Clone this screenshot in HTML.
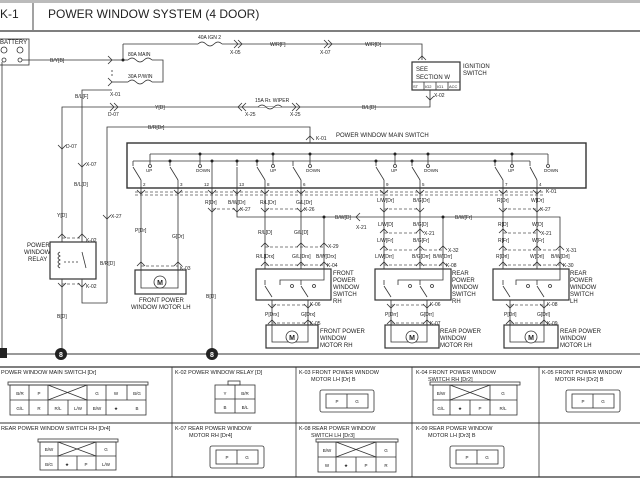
<!DOCTYPE html>
<html><head><meta charset="utf-8"><style>
html,body{margin:0;padding:0;background:#fff;}
svg{display:block;font-family:"Liberation Sans",sans-serif;}
text{fill:#222;}
</style></head><body>
<svg width="640" height="480" viewBox="0 0 640 480" xmlns="http://www.w3.org/2000/svg">
<rect x="0" y="0" width="640" height="3" fill="#bbb"/>
<text x="0" y="18" font-size="12">K-1</text>
<line x1="33" y1="3" x2="33" y2="30" stroke="#444"/>
<text x="48" y="18" font-size="12">POWER WINDOW SYSTEM (4 DOOR)</text>
<line x1="0" y1="31" x2="640" y2="31" stroke="#333" stroke-width="1.2"/>

<g stroke="#333" stroke-width="0.8" fill="none">
<!-- battery -->
<rect x="-2" y="39" width="31" height="26"/>
<circle cx="4" cy="50" r="3"/><circle cx="20" cy="50" r="3"/>
<circle cx="4" cy="60" r="2"/><circle cx="20" cy="60" r="2"/>
<line x1="2" y1="62" x2="2" y2="354"/>
<line x1="22" y1="60" x2="114" y2="60"/>
<!-- fuses -->
<line x1="114" y1="60" x2="128" y2="60"/>
<path d="M128 60 q4 -4 8 0 q4 4 8 0 q4 -4 8 0"/>
<polyline points="152,60 163,60 163,82 152,82"/>
<path d="M128 82 q4 -4 8 0 q4 4 8 0 q4 -4 8 0"/>
<line x1="112" y1="82" x2="128" y2="82"/>
<line x1="123" y1="60" x2="123" y2="44"/>
<line x1="123" y1="44" x2="198" y2="44"/>
<path d="M198 44 q4 -4 8 0 q4 4 8 0 q4 -4 8 0"/>
<polyline points="222,44 422,44 422,60"/>
<line x1="112" y1="70" x2="112" y2="78" stroke-dasharray="2,2"/>
<polyline points="112,90 82,90 82,242"/>
<!-- ignition -->
<rect x="412" y="62" width="48" height="28" stroke-width="1.2"/>
<line x1="412" y1="82" x2="460" y2="82"/>
<line x1="424" y1="82" x2="424" y2="90"/><line x1="436" y1="82" x2="436" y2="90"/><line x1="448" y1="82" x2="448" y2="90"/>
<polyline points="430,90 430,107 62,107 62,242"/>
<path d="M258 107 q4 -4 8 0 q4 4 8 0 q4 -4 8 0" fill="#fff"/>
<!-- B/R -->
<polyline points="107,303 107,127 310,127 310,143"/>
<polyline points="107,303 82,303 82,279"/>
<line x1="62" y1="279" x2="62" y2="354"/>
<!-- relay -->
<rect x="50" y="242" width="46" height="37" stroke-width="1.2"/>
<path d="M60 252 q-4 2 0 4 q-4 2 0 4 q-4 2 0 4 q-4 2 0 4"/>
<line x1="64" y1="262" x2="80" y2="262" stroke-dasharray="2,2"/>
<line x1="82" y1="252" x2="86" y2="268"/>
<!-- main switch box -->
<rect x="127" y="143" width="459" height="45" stroke-width="1.4"/>
<line x1="150" y1="154" x2="548" y2="154"/>
<line x1="133" y1="161" x2="530" y2="161"/>
<line x1="150" y1="154" x2="150" y2="164"/><line x1="200" y1="154" x2="200" y2="164"/>
<line x1="273" y1="154" x2="273" y2="164"/><line x1="310" y1="154" x2="310" y2="164"/>
<line x1="395" y1="154" x2="395" y2="164"/><line x1="428" y1="154" x2="428" y2="164"/>
<line x1="512" y1="154" x2="512" y2="164"/><line x1="548" y1="154" x2="548" y2="164"/>
<line x1="212" y1="161" x2="212" y2="188"/>
<line x1="133" y1="161" x2="133" y2="166"/><line x1="170" y1="161" x2="170" y2="166"/>
<line x1="237" y1="161" x2="237" y2="166"/><line x1="257" y1="161" x2="257" y2="166"/>
<line x1="293" y1="161" x2="293" y2="166"/><line x1="376" y1="161" x2="376" y2="166"/>
<line x1="412" y1="161" x2="412" y2="166"/><line x1="495" y1="161" x2="495" y2="166"/>
<line x1="530" y1="161" x2="530" y2="166"/>
<g>
<line x1="133" y1="167" x2="141" y2="180"/><line x1="170" y1="167" x2="178" y2="180"/>
<line x1="237" y1="167" x2="237" y2="180"/><line x1="257" y1="167" x2="265" y2="180"/>
<line x1="293" y1="167" x2="301" y2="180"/><line x1="376" y1="167" x2="384" y2="180"/>
<line x1="412" y1="167" x2="420" y2="180"/><line x1="495" y1="167" x2="503" y2="180"/>
<line x1="530" y1="167" x2="537" y2="180"/>
</g>
<!-- verticals from main switch -->
<line x1="141" y1="180" x2="141" y2="270"/><line x1="178" y1="180" x2="178" y2="270"/>
<line x1="212" y1="188" x2="212" y2="354"/>
<polyline points="237,180 237,217 560,217 560,269"/>
<line x1="265" y1="180" x2="265" y2="269"/><line x1="301" y1="180" x2="301" y2="269"/>
<line x1="324" y1="217" x2="324" y2="269"/>
<line x1="384" y1="180" x2="384" y2="269"/><line x1="420" y1="180" x2="420" y2="269"/>
<line x1="443" y1="217" x2="443" y2="269"/>
<line x1="503" y1="180" x2="503" y2="269"/><line x1="537" y1="180" x2="537" y2="269"/>
<!-- motor LH -->
<rect x="135" y="270" width="51" height="24" stroke-width="1.2"/>
<polyline points="141,270 141,288 178,288 178,270"/>
<!-- sub switches -->
<rect x="256" y="269" width="75" height="31" stroke-width="1.2"/>
<rect x="375" y="269" width="76" height="31" stroke-width="1.2"/>
<rect x="493" y="269" width="76" height="31" stroke-width="1.2"/>
<polyline points="280,285 280,280 324,280 324,269"/>
<polyline points="398,285 398,280 443,280 443,269"/>
<polyline points="516,285 516,280 560,280 560,269"/>
<line x1="265" y1="280" x2="265" y2="285"/><line x1="265" y1="286" x2="272" y2="297"/>
<line x1="301" y1="280" x2="301" y2="285"/><line x1="301" y1="286" x2="308" y2="297"/>
<line x1="384" y1="280" x2="384" y2="285"/><line x1="384" y1="286" x2="391" y2="297"/>
<line x1="420" y1="280" x2="420" y2="285"/><line x1="420" y1="286" x2="427" y2="297"/>
<line x1="503" y1="280" x2="503" y2="285"/><line x1="503" y1="286" x2="510" y2="297"/>
<line x1="537" y1="280" x2="537" y2="285"/><line x1="537" y1="286" x2="544" y2="297"/>
<line x1="272" y1="300" x2="272" y2="330"/><line x1="308" y1="300" x2="308" y2="330"/>
<line x1="391" y1="300" x2="391" y2="330"/><line x1="427" y1="300" x2="427" y2="330"/>
<line x1="510" y1="300" x2="510" y2="330"/><line x1="544" y1="300" x2="544" y2="330"/>
<!-- motors -->
<rect x="266" y="325" width="52" height="23" stroke-width="1.2"/>
<rect x="385" y="325" width="54" height="23" stroke-width="1.2"/>
<rect x="504" y="325" width="54" height="23" stroke-width="1.2"/>
<polyline points="272,330 272,342 308,342 308,330"/>
<polyline points="391,330 391,342 427,342 427,330"/>
<polyline points="510,330 510,342 544,342 544,330"/>
<!-- connector dashed rows -->
<g stroke-dasharray="3,2" stroke="#555">
<line x1="135" y1="192" x2="545" y2="192"/><line x1="135" y1="195" x2="545" y2="195"/>
<line x1="212" y1="209" x2="237" y2="209"/><line x1="265" y1="209" x2="301" y2="209"/>
<line x1="384" y1="209" x2="420" y2="209"/><line x1="503" y1="209" x2="537" y2="209"/>
<line x1="265" y1="247" x2="324" y2="247"/><line x1="384" y1="233" x2="420" y2="233"/>
<line x1="384" y1="250" x2="443" y2="250"/><line x1="503" y1="233" x2="537" y2="233"/>
<line x1="503" y1="250" x2="560" y2="250"/>
<line x1="265" y1="265" x2="324" y2="265"/><line x1="384" y1="265" x2="443" y2="265"/><line x1="503" y1="265" x2="560" y2="265"/>
<line x1="141" y1="266" x2="178" y2="266"/>
<line x1="272" y1="305" x2="308" y2="305"/><line x1="391" y1="305" x2="427" y2="305"/><line x1="510" y1="305" x2="544" y2="305"/>
<line x1="272" y1="323" x2="308" y2="323"/><line x1="391" y1="323" x2="427" y2="323"/><line x1="510" y1="323" x2="544" y2="323"/>
<line x1="62" y1="238" x2="82" y2="238"/><line x1="62" y1="284" x2="82" y2="284"/>
</g>
<!-- chevrons -->
<g stroke="#333">
<path d="M137 190l4 4 4-4M174 190l4 4 4-4M208 190l4 4 4-4M233 190l4 4 4-4M261 190l4 4 4-4M297 190l4 4 4-4M380 190l4 4 4-4M416 190l4 4 4-4M499 190l4 4 4-4M533 190l4 4 4-4"/>
<path d="M208 208l4 4 4-4M233 208l4 4 4-4M261 208l4 4 4-4M297 208l4 4 4-4M380 208l4 4 4-4M416 208l4 4 4-4M499 208l4 4 4-4M533 208l4 4 4-4"/>
<path d="M261 247l4-4 4 4M297 247l4-4 4 4M320 247l4-4 4 4M380 233l4-4 4 4M416 233l4-4 4 4M499 233l4-4 4 4M533 233l4-4 4 4M380 250l4-4 4 4M416 250l4-4 4 4M439 250l4-4 4 4M499 250l4-4 4 4M533 250l4-4 4 4M556 250l4-4 4 4"/>
<path d="M261 266l4-4 4 4M297 266l4-4 4 4M320 266l4-4 4 4M380 266l4-4 4 4M416 266l4-4 4 4M439 266l4-4 4 4M499 266l4-4 4 4M533 266l4-4 4 4M556 266l4-4 4 4M137 266l4-4 4 4M174 266l4-4 4 4"/>
<path d="M268 304l4 4 4-4M304 304l4 4 4-4M387 304l4 4 4-4M423 304l4 4 4-4M506 304l4 4 4-4M540 304l4 4 4-4"/>
<path d="M268 324l4-4 4 4M304 324l4-4 4 4M387 324l4-4 4 4M423 324l4-4 4 4M506 324l4-4 4 4M540 324l4-4 4 4"/>
<path d="M58 238l4-4 4 4M78 238l4-4 4 4M58 283l4 4 4-4M78 283l4 4 4-4"/>
<path d="M58 145l4 4 4-4M78 163l4 4 4-4M103 215l4 4 4-4M306 140l4-4 4 4M418 60l4-4 4 4M426 96l4 4 4-4"/>
<path d="M108 56l4 4-4 4M108 78l4 4-4 4M234 40l4 4-4 4M238 40l4 4-4 4M324 40l4 4-4 4M328 40l4 4-4 4M110 103l4 4-4 4M114 103l4 4-4 4M242 103l-4 4 4 4M246 103l-4 4 4 4M292 103l4 4-4 4M296 103l4 4-4 4M360 213l-4 4 4 4"/>
</g>
<!-- ground line -->
<line x1="0" y1="354" x2="640" y2="354" stroke-width="1"/>
<!-- table -->
<line x1="0" y1="367" x2="640" y2="367" stroke-width="1.2"/>
<line x1="0" y1="423" x2="640" y2="423" stroke-width="1"/>
<line x1="0" y1="477" x2="640" y2="477" stroke-width="1.2"/>
<line x1="172" y1="367" x2="172" y2="477"/><line x1="296" y1="367" x2="296" y2="477"/>
<line x1="412" y1="367" x2="412" y2="477"/><line x1="539" y1="367" x2="539" y2="477"/>
<!-- connector drawings -->
<rect x="8" y="382" width="140" height="3"/>
<rect x="10" y="385" width="136" height="30"/>
<line x1="10" y1="400" x2="146" y2="400"/>
<path d="M29 385v30M48 385v30M87 385v30M106 385v30M127 385v15M68 400v15M48 385l39 15M87 385l-39 15"/>
<rect x="38" y="439" width="80" height="3"/>
<rect x="40" y="442" width="76" height="28"/>
<line x1="40" y1="456" x2="116" y2="456"/>
<path d="M58 442v28M96 442v28M77 456v14M58 442l38 14M96 442l-38 14"/>
<rect x="215" y="385" width="40" height="28"/><line x1="215" y1="399" x2="255" y2="399"/><line x1="235" y1="385" x2="235" y2="413"/>
<rect x="228" y="381" width="12" height="4"/>
<rect x="320" y="390" width="54" height="22" rx="2"/><rect x="326" y="394" width="42" height="14"/><line x1="347" y1="394" x2="347" y2="408"/>
<rect x="566" y="390" width="54" height="22" rx="2"/><rect x="572" y="394" width="42" height="14"/><line x1="593" y1="394" x2="593" y2="408"/>
<rect x="210" y="446" width="54" height="22" rx="2"/><rect x="216" y="450" width="42" height="14"/><line x1="237" y1="450" x2="237" y2="464"/>
<rect x="450" y="446" width="54" height="22" rx="2"/><rect x="456" y="450" width="42" height="14"/><line x1="477" y1="450" x2="477" y2="464"/>
<rect x="430" y="382" width="90" height="3"/>
<rect x="433" y="385" width="84" height="30"/><line x1="433" y1="400" x2="517" y2="400"/>
<path d="M450 385v30M490 385v30M470 400v15M450 385l40 15M490 385l-40 15"/>
<rect x="316" y="439" width="82" height="3"/>
<rect x="318" y="442" width="78" height="30"/><line x1="318" y1="457" x2="396" y2="457"/>
<path d="M336 442v30M376 442v30M356 457v15M336 442l40 15M376 442l-40 15"/>
</g>
<!-- dots -->
<g fill="#222">
<circle cx="123" cy="60" r="1.5"/><circle cx="200" cy="154" r="1.5"/><circle cx="273" cy="154" r="1.5"/><circle cx="310" cy="154" r="1.5"/>
<circle cx="395" cy="154" r="1.5"/><circle cx="428" cy="154" r="1.5"/><circle cx="512" cy="154" r="1.5"/>
<circle cx="170" cy="161" r="1.5"/><circle cx="212" cy="161" r="1.5"/><circle cx="257" cy="161" r="1.5"/><circle cx="237" cy="161" r="1.5"/>
<circle cx="376" cy="161" r="1.5"/><circle cx="412" cy="161" r="1.5"/><circle cx="495" cy="161" r="1.5"/>
<circle cx="324" cy="217" r="1.5"/><circle cx="443" cy="217" r="1.5"/>
<circle cx="61" cy="354" r="6"/><circle cx="212" cy="354" r="6"/>
<rect x="0" y="348" width="7" height="10"/>
</g>
<g fill="#fff" stroke="#333" stroke-width="0.8">
<circle cx="150" cy="166" r="1.5"/><circle cx="200" cy="166" r="1.5"/><circle cx="273" cy="166" r="1.5"/><circle cx="310" cy="166" r="1.5"/>
<circle cx="395" cy="166" r="1.5"/><circle cx="428" cy="166" r="1.5"/><circle cx="512" cy="166" r="1.5"/><circle cx="548" cy="166" r="1.5"/>
<circle cx="292" cy="286" r="1.5"/><circle cx="314" cy="286" r="1.5"/><circle cx="410" cy="286" r="1.5"/><circle cx="432" cy="286" r="1.5"/><circle cx="528" cy="286" r="1.5"/><circle cx="550" cy="286" r="1.5"/>
<circle cx="160" cy="282" r="6"/><circle cx="292" cy="337" r="6"/><circle cx="412" cy="337" r="6"/><circle cx="531" cy="337" r="6"/>
</g>
<g font-size="7" font-weight="bold" text-anchor="middle" fill="#222">
<text x="160" y="285">M</text><text x="292" y="340">M</text><text x="412" y="340">M</text><text x="531" y="340">M</text>
</g>
<g font-size="7" font-weight="bold" text-anchor="middle"><text x="61" y="357" style="fill:#fff">8</text><text x="212" y="357" style="fill:#fff">8</text></g>
<!-- labels -->
<g font-size="5">
<text x="0" y="44" font-size="6">BATTERY</text>
<text x="50" y="62">B/Y[B]</text>
<text x="128" y="56">80A MAIN</text><text x="128" y="78">30A P/WIN</text><text x="110" y="96">X-01</text>
<text x="198" y="39">40A IGN 2</text><text x="230" y="54">X-05</text><text x="270" y="46">W/R[F]</text><text x="320" y="54">X-07</text><text x="365" y="46">W/R[D]</text>
<text x="416" y="71" font-size="6">SEE</text><text x="416" y="79" font-size="6">SECTION W</text>
<text x="463" y="68" font-size="6">IGNITION</text><text x="463" y="75" font-size="6">SWITCH</text>
<text x="413" y="88" font-size="4">ST</text><text x="425" y="88" font-size="4">IG2</text><text x="437" y="88" font-size="4">IG1</text><text x="449" y="88" font-size="4">ACC</text>
<text x="434" y="97">X-02</text>
<text x="75" y="98">B/L[F]</text>
<text x="108" y="116">D-07</text><text x="155" y="109">Y[D]</text><text x="245" y="116">X-25</text><text x="255" y="102">15A Rr. WIPER</text><text x="290" y="116">X-25</text><text x="362" y="109">B/L[D]</text>
<text x="148" y="129">B/R[Dr]</text>
<text x="316" y="140">K-01</text><text x="336" y="137" font-size="6">POWER WINDOW MAIN SWITCH</text>
<text x="66" y="148">D-07</text><text x="86" y="166">X-07</text><text x="74" y="186">B/L[D]</text><text x="57" y="217">Y[D]</text><text x="111" y="218">X-27</text><text x="100" y="265">B/R[D]</text>
<text x="86" y="242">K-02</text><text x="86" y="288">K-02</text><text x="57" y="318">B[D]</text>
<text x="27" y="247" font-size="6">POWER</text><text x="24" y="254" font-size="6">WINDOW</text><text x="28" y="261" font-size="6">RELAY</text>
<g font-size="4.5">
<text x="146" y="172">UP</text><text x="196" y="172">DOWN</text><text x="270" y="172">UP</text><text x="306" y="172">DOWN</text>
<text x="391" y="172">UP</text><text x="424" y="172">DOWN</text><text x="508" y="172">UP</text><text x="544" y="172">DOWN</text>
<text x="143" y="186">2</text><text x="180" y="186">3</text><text x="204" y="186">12</text><text x="239" y="186">13</text><text x="267" y="186">8</text><text x="303" y="186">6</text>
<text x="386" y="186">9</text><text x="422" y="186">5</text><text x="505" y="186">7</text><text x="539" y="186">4</text>
</g>
<text x="135" y="232">P[Dr]</text><text x="172" y="238">G[Dr]</text><text x="180" y="270">K-03</text>
<text x="139" y="302" font-size="6">FRONT POWER</text><text x="131" y="309" font-size="6">WINDOW MOTOR LH</text>
<text x="205" y="204">R[Dr]</text><text x="228" y="204">B/W[Dr]</text><text x="260" y="204">R/L[Dr]</text><text x="296" y="204">G/L[Dr]</text>
<text x="240" y="211">X-27</text><text x="304" y="211">X-26</text><text x="335" y="219">B/W[D]</text><text x="356" y="229">X-21</text>
<text x="206" y="298">B[D]</text>
<text x="258" y="234">R/L[D]</text><text x="294" y="234">G/L[D]</text><text x="328" y="248">X-29</text>
<text x="256" y="258">R/L[Drx]</text><text x="292" y="258">G/L[Drx]</text><text x="316" y="258">B/W[Drx]</text>
<text x="327" y="267">K-04</text>
<g font-size="6"><text x="333" y="275">FRONT</text><text x="333" y="282">POWER</text><text x="333" y="289">WINDOW</text><text x="333" y="296">SWITCH</text><text x="333" y="303">RH</text></g>
<text x="310" y="306">K-06</text><text x="265" y="316">P[Drx]</text><text x="301" y="316">G[Drx]</text><text x="310" y="325">K-05</text>
<g font-size="6"><text x="320" y="333">FRONT POWER</text><text x="320" y="340">WINDOW</text><text x="320" y="347">MOTOR RH</text></g>
<text x="377" y="202">L/W[Dr]</text><text x="413" y="202">B/G[Dr]</text><text x="497" y="202">R[Dr]</text><text x="531" y="202">W[Dr]</text><text x="546" y="193">K-01</text>
<text x="540" y="211">X-27</text><text x="455" y="219">B/W[Fr]</text>
<text x="378" y="226">L/W[D]</text><text x="413" y="226">B/G[D]</text><text x="498" y="226">R[D]</text><text x="532" y="226">W[D]</text>
<text x="424" y="235">X-21</text><text x="541" y="235">X-21</text>
<text x="377" y="242">L/W[Fr]</text><text x="413" y="242">B/G[Fr]</text><text x="498" y="242">R[Fr]</text><text x="532" y="242">W[Fr]</text>
<text x="448" y="252">X-32</text><text x="566" y="252">X-31</text>
<text x="375" y="258">L/W[Drr]</text><text x="412" y="258">B/G[Drr]</text><text x="433" y="258">B/W[Drr]</text>
<text x="496" y="258">R[Drl]</text><text x="530" y="258">W[Drl]</text><text x="551" y="258">B/W[Drl]</text>
<text x="446" y="267">K-08</text><text x="563" y="267">K-30</text>
<g font-size="6"><text x="452" y="275">REAR</text><text x="452" y="282">POWER</text><text x="452" y="289">WINDOW</text><text x="452" y="296">SWITCH</text><text x="452" y="303">RH</text>
<text x="570" y="275">REAR</text><text x="570" y="282">POWER</text><text x="570" y="289">WINDOW</text><text x="570" y="296">SWITCH</text><text x="570" y="303">LH</text></g>
<text x="430" y="306">K-06</text><text x="547" y="306">K-08</text>
<text x="385" y="316">P[Drr]</text><text x="420" y="316">G[Drr]</text><text x="504" y="316">P[Drl]</text><text x="537" y="316">G[Drl]</text>
<text x="430" y="325">K-07</text><text x="547" y="325">K-09</text>
<g font-size="6"><text x="440" y="333">REAR POWER</text><text x="440" y="340">WINDOW</text><text x="440" y="347">MOTOR RH</text>
<text x="560" y="333">REAR POWER</text><text x="560" y="340">WINDOW</text><text x="560" y="347">MOTOR LH</text></g>
<!-- table text -->
<g font-size="5.5">
<text x="1" y="374">POWER WINDOW MAIN SWITCH [Dr]</text>
<text x="175" y="374">K-02 POWER WINDOW RELAY [D]</text>
<text x="299" y="374">K-03 FRONT POWER WINDOW</text><text x="311" y="381">MOTOR LH [Dr] B</text>
<text x="416" y="374">K-04 FRONT POWER WINDOW</text><text x="428" y="381">SWITCH RH [Dr2]</text>
<text x="542" y="374">K-05 FRONT POWER WINDOW</text><text x="555" y="381">MOTOR RH [Dr2] B</text>
<text x="1" y="430">REAR POWER WINDOW SWITCH RH [Dr4]</text>
<text x="175" y="430">K-07 REAR POWER WINDOW</text><text x="189" y="437">MOTOR RH [Dr4]</text>
<text x="299" y="430">K-08 REAR POWER WINDOW</text><text x="311" y="437">SWITCH LH [Dr3]</text>
<text x="416" y="430">K-09 REAR POWER WINDOW</text><text x="428" y="437">MOTOR LH [Dr3] B</text>
</g>
<g font-size="4.5" text-anchor="middle">
<text x="20" y="395">B/R</text><text x="39" y="395">P</text><text x="97" y="395">G</text><text x="116" y="395">W</text><text x="137" y="395">B/G</text>
<text x="20" y="410">G/L</text><text x="39" y="410">R</text><text x="58" y="410">R/L</text><text x="78" y="410">L/W</text><text x="97" y="410">B/W</text><text x="116" y="410">★</text><text x="137" y="410">B</text>
<text x="225" y="395">Y</text><text x="245" y="395">B/R</text><text x="225" y="409">B</text><text x="245" y="409">B/L</text>
<text x="337" y="403">P</text><text x="357" y="403">G</text><text x="583" y="403">P</text><text x="603" y="403">G</text>
<text x="227" y="459">P</text><text x="247" y="459">G</text><text x="467" y="459">P</text><text x="487" y="459">G</text>
<text x="441" y="395">B/W</text><text x="503" y="395">G</text><text x="441" y="410">G/L</text><text x="460" y="410">★</text><text x="480" y="410">P</text><text x="503" y="410">R/L</text>
<text x="49" y="451">B/W</text><text x="106" y="451">G</text><text x="49" y="466">B/G</text><text x="67" y="466">★</text><text x="86" y="466">P</text><text x="106" y="466">L/W</text>
<text x="327" y="452">B/W</text><text x="386" y="452">G</text><text x="327" y="467">W</text><text x="346" y="467">★</text><text x="366" y="467">P</text><text x="386" y="467">R</text>
</g>
</g>
</svg>
</body></html>
